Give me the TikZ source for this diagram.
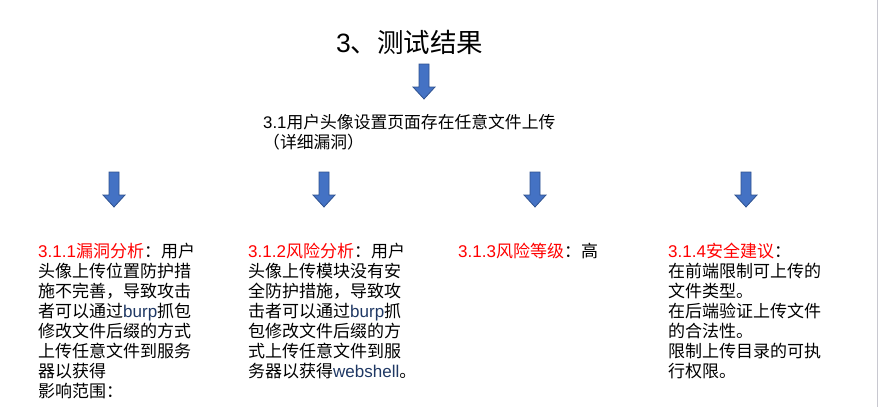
\documentclass[tikz,border=0pt]{standalone}
\usepackage{fontspec}
\setmainfont{Noto Sans CJK SC}
\newfontfamily\lat{Liberation Sans}
\definecolor{arrowfill}{HTML}{4472C4}
\definecolor{arrowline}{HTML}{2F528F}
\definecolor{burpblue}{HTML}{1F3864}
\definecolor{edgegray}{HTML}{C8C8D0}
\newcommand{\redtxt}[1]{\textcolor{red}{#1}}
\newcommand{\bluetxt}[1]{\textcolor{burpblue}{\lat #1}}
\tikzset{
  blockarrow/.pic={
    \draw[arrowline, fill=arrowfill, line width=0.8pt]
      (-5,0) -- (5,0) -- (5,23) -- (11,23) -- (0,35) -- (-11,23) -- (-5,23) -- cycle;
  },
  coltext/.style={anchor=north west, inner sep=0pt, align=left,
    font=\fontsize{17pt}{20pt}\selectfont},
}
\begin{document}
\begin{tikzpicture}[x=1pt, y=-1pt]
    \useasboundingbox (0,0) rectangle (879,407);
    \draw[edgegray, line width=1.6pt] (877.5,0) -- (877.5,407);
    % title and first step
    \node[anchor=base west, inner sep=0pt, font=\fontsize{26.5pt}{30pt}\selectfont] (title) at (336,52) {{\lat 3}、测试结果};
    \pic at (424,64) {blockarrow};
    \node[anchor=north west, inner sep=0pt, align=left, font=\fontsize{16.8pt}{20.5pt}\selectfont] (sub) at (263,114)
        {{\lat 3.1}用户头像设置页面存在任意文件上传\\（详细漏洞）};
    % four results
    \pic at (114,172) {blockarrow};
    \pic at (324,172) {blockarrow};
    \pic at (535,172) {blockarrow};
    \pic at (746,172) {blockarrow};
    \node[coltext] (vuln) at (38,243) {\redtxt{{\lat 3.1.1}漏洞分析}：用户\\头像上传位置防护措\\施不完善，导致攻击\\者可以通过\bluetxt{burp}抓包\\修改文件后缀的方式\\上传任意文件到服务\\器以获得\\影响范围：};
    \node[coltext] (risk) at (248,243) {\redtxt{{\lat 3.1.2}风险分析}：用户\\头像上传模块没有安\\全防护措施，导致攻\\击者可以通过\bluetxt{burp}抓\\包修改文件后缀的方\\式上传任意文件到服\\务器以获得\bluetxt{webshell}。};
    \node[coltext] (level) at (458,243) {\redtxt{{\lat 3.1.3}风险等级}：高};
    \node[coltext] (advice) at (668,243) {\redtxt{{\lat 3.1.4}安全建议}：\\在前端限制可上传的\\文件类型。\\在后端验证上传文件\\的合法性。\\限制上传目录的可执\\行权限。};
\end{tikzpicture}
\end{document}
